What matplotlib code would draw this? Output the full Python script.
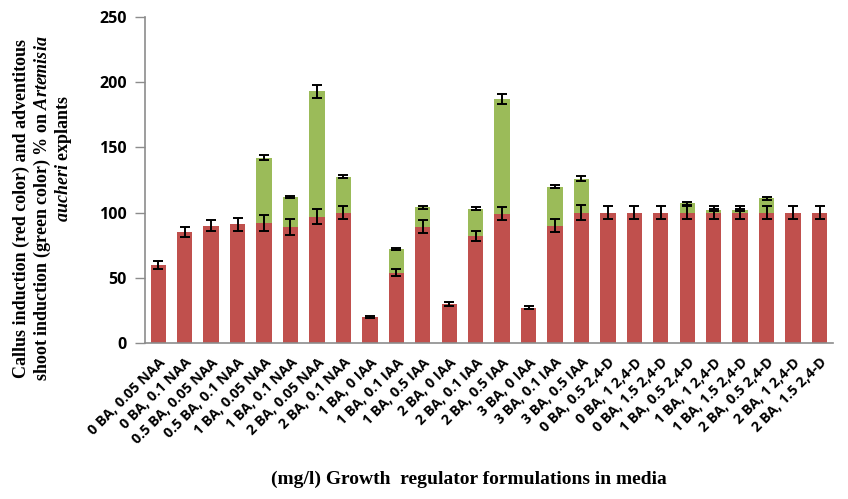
import numpy as np
import matplotlib
matplotlib.use('Agg')
import matplotlib.pyplot as plt

# media formulations (x categories)
labels = ['0 BA, 0.05 NAA', '0 BA, 0.1 NAA', '0.5 BA, 0.05 NAA', '0.5 BA, 0.1 NAA',
          '1 BA, 0.05 NAA', '1 BA, 0.1 NAA', '2 BA, 0.05 NAA', '2 BA, 0.1 NAA',
          '1 BA, 0 IAA', '1 BA, 0.1 IAA', '1 BA, 0.5 IAA',
          '2 BA, 0 IAA', '2 BA, 0.1 IAA', '2 BA, 0.5 IAA',
          '3 BA, 0 IAA', '3 BA, 0.1 IAA', '3 BA, 0.5 IAA',
          '0 BA, 0.5 2,4-D', '0 BA, 1 2,4-D', '0 BA, 1.5 2,4-D',
          '1 BA, 0.5 2,4-D', '1 BA, 1 2,4-D', '1 BA, 1.5 2,4-D',
          '2 BA, 0.5 2,4-D', '2 BA, 1 2,4-D', '2 BA, 1.5 2,4-D']

# callus induction % (red) and its error
callus = [60, 85, 90, 91, 92, 89, 97, 100,
          20, 54, 89, 30, 82, 99, 27, 90, 100,
          100, 100, 100, 100, 100, 100, 100, 100, 100]
callusErr = [3, 4, 4, 5, 6, 6, 6, 5,
             1, 3, 5, 1.5, 4, 5, 1, 5, 6,
             5, 5, 5, 5, 5, 5, 5, 5, 5]

# shoot induction % (green), stacked on top of callus
shoot = [0, 0, 0, 0, 50, 23, 96, 27.5,
         0, 18, 15, 0, 21, 88, 0, 30, 26,
         0, 0, 0, 7, 2, 2, 11, 0, 0]
shootErr = [0, 0, 0, 0, 2, 1, 5, 1,
            0, 1, 1, 0, 1, 4, 0, 1.5, 2,
            0, 0, 0, 1, 0.5, 0.5, 1, 0, 0]

redColor = '#C0504D'
greenColor = '#9BBB59'
axisColor = '#8C8C8C'

plt.rcParams['mathtext.fontset'] = 'custom'
plt.rcParams['mathtext.it'] = 'Liberation Serif:italic:bold'
plt.rcParams['mathtext.rm'] = 'Liberation Serif:bold'

x = np.arange(len(labels))
callus = np.array(callus)
shoot = np.array(shoot)

fig = plt.figure(figsize=(8.48, 4.99), dpi=100)
ax = fig.add_axes([0.171, 0.3126, 0.811, 0.6534])

ax.bar(x, callus, width=0.58, color=redColor, zorder=2)
ax.bar(x, shoot, width=0.58, bottom=callus, color=greenColor, zorder=2)

ax.errorbar(x, callus, yerr=callusErr, fmt='none', ecolor='black',
            elinewidth=1.4, capsize=3.5, capthick=1.4, zorder=3)
hasShoot = shoot > 0
ax.errorbar(x[hasShoot], (callus + shoot)[hasShoot], yerr=np.array(shootErr)[hasShoot],
            fmt='none', ecolor='black', elinewidth=1.4, capsize=3.5, capthick=1.4, zorder=3)

ax.set_xlim(-0.5, len(labels) - 0.5)
ax.set_ylim(0, 250)
ax.set_yticks([0, 50, 100, 150, 200, 250])

for side in ['top', 'right']:
    ax.spines[side].set_visible(False)
for side in ['left', 'bottom']:
    ax.spines[side].set_color(axisColor)
    ax.spines[side].set_linewidth(1.2)

ax.tick_params(axis='y', colors=axisColor, length=7, width=1, pad=6)
ax.tick_params(axis='x', length=0, pad=9)
for t in ax.get_yticklabels():
    t.set_color('black')
    t.set_fontfamily('Open Sans')
    t.set_fontweight('bold')
    t.set_fontsize(11.5)

ax.set_xticks(x)
ax.set_xticklabels(labels, rotation=45, ha='right', rotation_mode='anchor',
                   fontfamily='Open Sans', fontweight='bold', fontsize=10.3)

# y-axis title, three lines
yFont = dict(rotation=90, ha='center', va='center', fontfamily='Liberation Serif',
             fontweight='bold', fontsize=13)
fig.text(0.0248, 0.583, 'Callus induction (red color) and adventitous', **yFont)
fig.text(0.0495, 0.583, 'shoot induction (green color) % on $\\mathit{Artemisia}$', **yFont)
fig.text(0.0743, 0.683, '$\\mathit{aucheri}$ explants', **yFont)

fig.text(0.553, 0.04, '(mg/l) Growth  regulator formulations in media', ha='center', va='center',
         fontfamily='Liberation Serif', fontweight='bold', fontsize=14)

fig.savefig('out.png', dpi=100)
